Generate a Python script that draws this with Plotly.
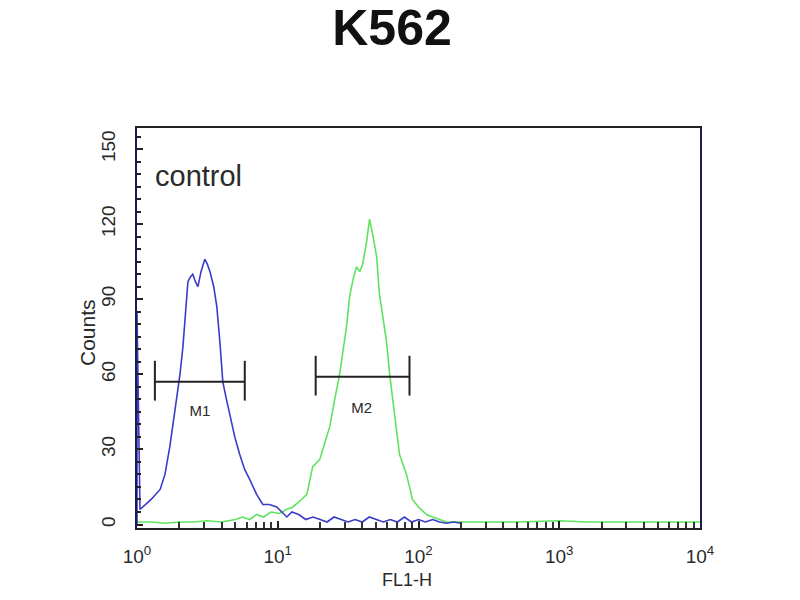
import plotly.graph_objects as go

# ---- data (FL1-H value, counts) ----
blue_x = [1.0, 1.0, 1.05, 1.15, 1.26, 1.46, 1.58, 1.71, 1.86, 2.02, 2.12, 2.21, 2.30, 2.40,
          2.49, 2.60, 2.71, 2.85, 3.03, 3.16, 3.30, 3.51, 3.69, 3.88, 4.07, 4.32, 4.57, 4.95,
          5.37, 5.82, 6.32, 7.08, 7.83, 8.71, 9.84, 10.7, 11.6, 12.6, 14.1, 15.8, 17.8, 20.0,
          22.4, 25.1, 28.2, 31.6, 35.5, 39.8, 44.7, 50.1, 56.2, 63.1, 70.8, 79.4, 89.1, 100,
          112, 126, 141, 158, 178, 200]
blue_y = [0, 85, 6, 8, 10, 14, 20, 31, 45, 60, 71, 85, 97, 99,
          100, 97, 95, 101, 106, 104, 101, 95, 87, 73, 57, 50, 44, 35,
          28, 22, 18, 12, 8, 8, 7, 5, 3, 5, 4, 2, 3, 2,
          1, 3, 2, 1, 2, 1, 3, 2, 1, 2, 1, 3, 1, 2,
          1, 2, 1, 0.5, 1, 0.5]

green_x = [1.0, 1.26, 1.58, 2.0, 2.51, 3.16, 3.98, 5.01, 5.62, 6.31, 7.08, 7.94, 8.91, 10.3,
           11.5, 12.8, 14.1, 16.1, 17.7, 19.9, 21.4, 23.4, 25.4, 27.5, 30.8, 32.4, 34.3, 36.3,
           38.3, 40.1, 42.8, 44.9, 47.2, 50.4, 52.8, 56.2, 59.3, 62.4, 65.5, 69.2, 73.3, 82.2,
           90.6, 100, 114, 126, 141, 158, 200, 316, 501, 1000, 1585, 2512, 3981, 6310, 10000]
green_y = [1, 1, 0.5, 1, 1, 1.5, 1, 2, 3, 2, 4, 3, 5, 4.4,
           6, 7, 9, 12, 23, 26, 32, 39, 50, 60, 79, 91, 98, 103,
           101, 104, 113, 122, 116, 107, 92, 82, 73, 60, 50, 38, 28, 20,
           10, 7, 4, 3, 2, 1, 1, 1, 1, 1.5, 1, 1, 1, 1, 1]

# gate markers
gate_names = ["M1", "M2"]
gate_lo = [1.34, 18.6]
gate_hi = [5.83, 86.3]
gate_level = [57, 59]
gate_cap_lo = [49.5, 51.5]
gate_cap_hi = [65.4, 67.4]
gate_label_x = [2.80, 39.4]
gate_label_y = [45, 46]

title_text = "K562"
sample_label = "control"
y_title = "Counts"
x_title = "FL1-H"
x_tickvals = [1, 10, 100, 1000, 10000]
x_ticktext = ["10<sup>0</sup>", "10<sup>1</sup>", "10<sup>2</sup>", "10<sup>3</sup>", "10<sup>4</sup>"]
x_minor_tickvals = [m * 10 ** d for d in range(4) for m in range(2, 10)]
y_tickvals = [0, 30, 60, 90, 120, 150]

FONT = "Liberation Sans, Arial, sans-serif"
TXT = "#2a2a2a"

fig = go.Figure()
fig.add_trace(go.Scatter(x=green_x, y=green_y, mode="lines",
                         line=dict(color="#5fe35f", width=1.6), hoverinfo="skip"))
fig.add_trace(go.Scatter(x=blue_x, y=blue_y, mode="lines",
                         line=dict(color="#3b3bc8", width=1.6), hoverinfo="skip"))

for i, name in enumerate(gate_names):
    gx = [gate_lo[i], gate_hi[i], None, gate_lo[i], gate_lo[i], None, gate_hi[i], gate_hi[i]]
    gy = [gate_level[i], gate_level[i], None, gate_cap_lo[i], gate_cap_hi[i], None,
          gate_cap_lo[i], gate_cap_hi[i]]
    fig.add_trace(go.Scatter(x=gx, y=gy, mode="lines",
                             line=dict(color="#222222", width=2), hoverinfo="skip"))
    fig.add_trace(go.Scatter(x=[gate_label_x[i]], y=[gate_label_y[i]], mode="text",
                             text=[name], textfont=dict(family=FONT, size=15, color=TXT),
                             hoverinfo="skip"))

fig.update_layout(
    width=800, height=600,
    margin=dict(l=129, r=108, t=120, b=80, autoexpand=False),
    paper_bgcolor="white", plot_bgcolor="white",
    showlegend=False,
    title=dict(text="<b>" + title_text + "</b>", x=0.48, xanchor="center", y=0.968,
               yanchor="middle", font=dict(family=FONT, size=50, color="#111111"),
               automargin=False),
    annotations=[
        dict(text=sample_label, xref="paper", yref="paper", x=0.028, y=0.88,
             xanchor="left", yanchor="middle", showarrow=False,
             font=dict(family=FONT, size=29, color=TXT)),
        dict(text=y_title, xref="paper", yref="paper", x=0, xshift=-50, y=0.4875,
             xanchor="center", yanchor="middle", textangle=-90, showarrow=False,
             font=dict(family=FONT, size=21, color=TXT)),
        dict(text=x_title, xref="paper", yref="paper", x=0.48, y=0, yshift=-52,
             xanchor="center", yanchor="middle", showarrow=False,
             font=dict(family=FONT, size=18, color=TXT)),
    ],
)

fig.update_xaxes(type="log", range=[0, 4], tickmode="array", tickvals=x_tickvals,
                 ticktext=x_ticktext, automargin=False,
                 showgrid=False, zeroline=False, showline=True, linecolor="#222222",
                 linewidth=2, mirror=True, ticks="inside", ticklen=7, tickwidth=2,
                 tickcolor="#222222",
                 minor=dict(tickmode="array", tickvals=x_minor_tickvals, ticks="inside",
                            ticklen=6, tickwidth=2, tickcolor="#333333", showgrid=False),
                 ticklabelstandoff=10,
                 tickfont=dict(family=FONT, size=19, color=TXT))
fig.update_yaxes(range=[-1.4, 158.4], tickvals=y_tickvals, tickangle=-90, automargin=False,
                 showgrid=False, zeroline=False, showline=True, linecolor="#1c1c50",
                 linewidth=2, mirror=True, ticks="inside", ticklen=6, tickwidth=2,
                 tickcolor="#222222",
                 minor=dict(ticks="inside", ticklen=4, dtick=5, tickwidth=2,
                            tickcolor="#222222"),
                 ticklabelstandoff=12,
                 tickfont=dict(family=FONT, size=19, color=TXT))

fig.write_html("out.html")
